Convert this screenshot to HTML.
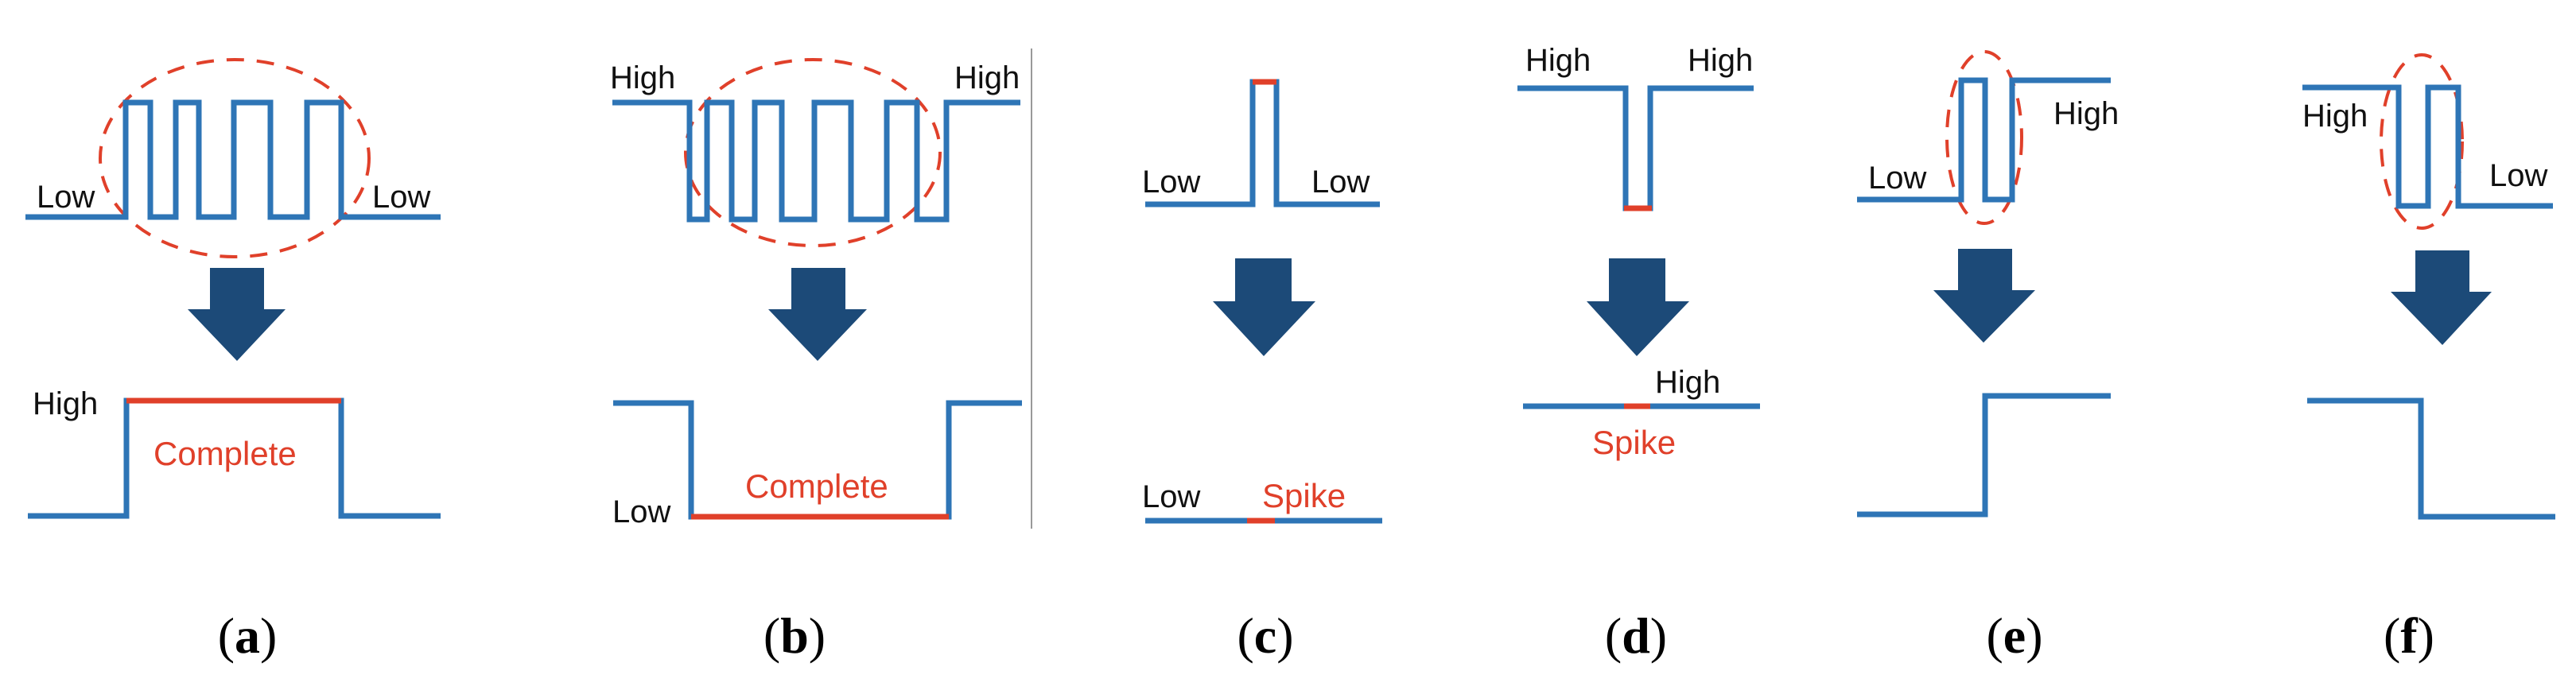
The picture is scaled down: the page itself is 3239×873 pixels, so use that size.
<!DOCTYPE html>
<html><head><meta charset="utf-8"><style>
html,body{margin:0;padding:0;background:#fff}
svg{display:block}
.s{fill:none;stroke:#2e75b6;stroke-width:7;stroke-linejoin:miter;stroke-linecap:butt}
.r{fill:none;stroke:#e0402a;stroke-width:7}
.e{fill:none;stroke:#e0402a;stroke-width:4;stroke-dasharray:22 16}
.t{font-family:"Liberation Sans",sans-serif;font-size:40px;fill:#111}
.tr{font-family:"Liberation Sans",sans-serif;font-size:42px;fill:#e0402a}
.lb{font-family:"Liberation Serif",serif;font-size:64px;fill:#000;text-anchor:middle}
.a{fill:#1c4a78}
</style></head><body>
<svg width="3239" height="873" viewBox="0 0 3239 873" xmlns="http://www.w3.org/2000/svg">
<!-- (a) -->
<ellipse class="e" cx="295" cy="199" rx="169" ry="124"/>
<polyline class="s" points="32,273 158,273 158,129 189,129 189,273 221,273 221,129 250,129 250,273 294,273 294,129 340,129 340,273 386,273 386,129 429,129 429,273 554,273"/>
<text class="t" x="46" y="261">Low</text>
<text class="t" x="468" y="261">Low</text>
<polygon class="a" points="264,337 332,337 332,389 359,389 298,454 236,389 264,389"/>
<polyline class="s" points="35,649 159,649 159,504 429,504 429,649 554,649"/>
<line class="r" x1="159" y1="504" x2="429" y2="504"/>
<text class="t" x="41" y="521">High</text>
<text class="tr" x="193" y="585">Complete</text>
<text class="lb" x="311" y="821">(<tspan font-weight="bold">a</tspan>)</text>
<!-- (b) -->
<ellipse class="e" cx="1022" cy="192" rx="160" ry="117"/>
<polyline class="s" points="770,129 867,129 867,276 889,276 889,129 920,129 920,276 949,276 949,129 983,129 983,276 1024,276 1024,129 1070,129 1070,276 1115,276 1115,129 1153,129 1153,276 1190,276 1190,129 1283,129"/>
<text class="t" x="767" y="111">High</text>
<text class="t" x="1200" y="111">High</text>
<polygon class="a" points="995,337 1063,337 1063,389 1090,389 1028,454 966,389 995,389"/>
<polyline class="s" points="771,507 869,507 869,650 1193,650 1193,507 1285,507"/>
<line class="r" x1="869" y1="650" x2="1193" y2="650"/>
<text class="t" x="770" y="657">Low</text>
<text class="tr" x="937" y="626">Complete</text>
<text class="lb" x="999" y="821">(<tspan font-weight="bold">b</tspan>)</text>
<line x1="1297" y1="61" x2="1297" y2="665" stroke="#999" stroke-width="2"/>
<!-- (c) -->
<polyline class="s" points="1440,257 1575,257 1575,103 1605,103 1605,257 1735,257"/>
<line class="r" x1="1575" y1="103" x2="1605" y2="103"/>
<text class="t" x="1436" y="242">Low</text>
<text class="t" x="1649" y="242">Low</text>
<polygon class="a" points="1553,325 1624,325 1624,379 1654,379 1589,448 1525,379 1553,379"/>
<line class="s" x1="1440" y1="655" x2="1738" y2="655"/>
<line class="r" x1="1568" y1="655" x2="1603" y2="655"/>
<text class="t" x="1436" y="638">Low</text>
<text class="tr" x="1587" y="638">Spike</text>
<text class="lb" x="1591" y="821">(<tspan font-weight="bold">c</tspan>)</text>
<!-- (d) -->
<polyline class="s" points="1908,111 2044,111 2044,262 2075,262 2075,111 2205,111"/>
<line class="r" x1="2042" y1="262" x2="2077" y2="262"/>
<text class="t" x="1918" y="89">High</text>
<text class="t" x="2122" y="89">High</text>
<polygon class="a" points="2023,325 2094,325 2094,379 2124,379 2058,448 1995,379 2023,379"/>
<line class="s" x1="1915" y1="511" x2="2213" y2="511"/>
<line class="r" x1="2042" y1="511" x2="2075" y2="511"/>
<text class="t" x="2081" y="494">High</text>
<text class="tr" x="2002" y="571">Spike</text>
<text class="lb" x="2057" y="821">(<tspan font-weight="bold">d</tspan>)</text>
<!-- (e) -->
<ellipse class="e" cx="2495" cy="173" rx="47" ry="108"/>
<polyline class="s" points="2335,251 2466,251 2466,101 2496,101 2496,251 2530,251 2530,101 2654,101"/>
<text class="t" x="2349" y="237">Low</text>
<text class="t" x="2582" y="156">High</text>
<polygon class="a" points="2462,313 2530,313 2530,365 2559,365 2494,431 2431,365 2462,365"/>
<polyline class="s" points="2335,647 2496,647 2496,498 2654,498"/>
<text class="lb" x="2533" y="821">(<tspan font-weight="bold">e</tspan>)</text>
<!-- (f) -->
<ellipse class="e" cx="3045" cy="178" rx="51" ry="109"/>
<polyline class="s" points="2895,110 3016,110 3016,259 3053,259 3053,110 3091,110 3091,259 3210,259"/>
<text class="t" x="2895" y="159">High</text>
<text class="t" x="3130" y="234">Low</text>
<polygon class="a" points="3037,315 3105,315 3105,367 3133,367 3071,434 3006,367 3037,367"/>
<polyline class="s" points="2901,504 3044,504 3044,650 3213,650"/>
<text class="lb" x="3029" y="821">(<tspan font-weight="bold">f</tspan>)</text>
</svg>
</body></html>
